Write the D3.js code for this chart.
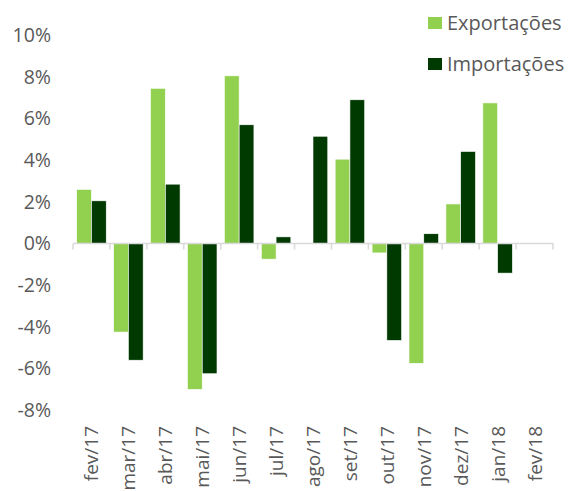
<!DOCTYPE html>
<html>
<head>
<meta charset="utf-8">
<script src="https://cdn.jsdelivr.net/npm/d3@7/dist/d3.min.js"></script>
<style>
  html, body { margin: 0; padding: 0; background: #fff; }
  svg { display: block; }
  text { font-family: "Open Sans", "Noto Sans", sans-serif; fill: #595959; }
</style>
</head>
<body>
<svg id="chart" width="572" height="491"></svg>
<script>
// Monthly variation (%) of exports and imports
const months = ["fev/17","mar/17","abr/17","mai/17","jun/17","jul/17","ago/17","set/17","out/17","nov/17","dez/17","jan/18","fev/18"];
const exportacoes = [2.6, -4.25, 7.45, -7.0, 8.05, -0.75, 0, 4.05, -0.45, -5.75, 1.9, 6.75, 0];
const importacoes = [2.05, -5.6, 2.85, -6.25, 5.7, 0.32, 5.15, 6.9, -4.65, 0.47, 4.42, -1.42, 0];
const seriesNames = ["Exportações", "Importações"];
const yTicks = [-8, -6, -4, -2, 0, 2, 4, 6, 8, 10];

const colors = ["#92D050", "#003A00"];
const svg = d3.select("#chart");

const x = d3.scaleBand().domain(months).range([73, 553]).paddingInner(0).paddingOuter(0);
const y = d3.scaleLinear().domain([-8, 10]).range([410.2, 35.2]);

// inner band for the two series, Excel-like gap width of 50%
const step = x.bandwidth();
const barW = step / 2.5;
const groupOffset = (step - 2 * barW) / 2;

const series = [exportacoes, importacoes];
series.forEach((vals, si) => {
  svg.append("g").selectAll("rect")
    .data(vals)
    .join("rect")
    .attr("x", (d, i) => x(months[i]) + groupOffset + si * barW)
    .attr("width", barW)
    .attr("y", d => y(Math.max(0, d)))
    .attr("height", d => Math.abs(y(d) - y(0)))
    .attr("fill", colors[si])
    .attr("stroke", "#ffffff")
    .attr("stroke-width", 0.6);
});

// y axis labels only (no line, no gridlines)
const yAxis = d3.axisLeft(y).tickValues(yTicks).tickSize(0).tickPadding(0)
  .tickFormat(d => d + "%");
const gy = svg.append("g").attr("transform", "translate(51,0)").call(yAxis);
gy.select(".domain").remove();
gy.selectAll("text").style("font-size", "19.5px").attr("fill", "#595959")
  .attr("font-family", "'Open Sans', sans-serif");

// category axis on the zero line with ticks at category boundaries
const gx = svg.append("g");
gx.append("line")
  .attr("x1", x.range()[0]).attr("x2", x.range()[1])
  .attr("y1", y(0)).attr("y2", y(0))
  .attr("stroke", "#D9D9D9").attr("stroke-width", 1.5);
const bounds = months.map(m => x(m)).concat([x.range()[1]]);
gx.selectAll("line.tick").data(bounds).join("line")
  .attr("class", "tick")
  .attr("x1", d => d).attr("x2", d => d)
  .attr("y1", y(0)).attr("y2", y(0) + 6)
  .attr("stroke", "#D9D9D9").attr("stroke-width", 1.5);

// rotated month labels below the plot
svg.append("g").selectAll("text")
  .data(months)
  .join("text")
  .attr("transform", d => `translate(${x(d) + step / 2 + 7},426) rotate(-90)`)
  .attr("text-anchor", "end")
  .style("font-size", "19px")
  .text(d => d);

// legend
const legend = svg.append("g");
seriesNames.forEach((name, i) => {
  const gy0 = 17 + i * 41;
  legend.append("rect")
    .attr("x", 428).attr("y", gy0).attr("width", 14).attr("height", 12)
    .attr("fill", colors[i]);
  legend.append("text")
    .attr("x", 447).attr("y", gy0 + 12.5)
    .style("font-size", "20px")
    .text(name);
});
</script>
</body>
</html>
